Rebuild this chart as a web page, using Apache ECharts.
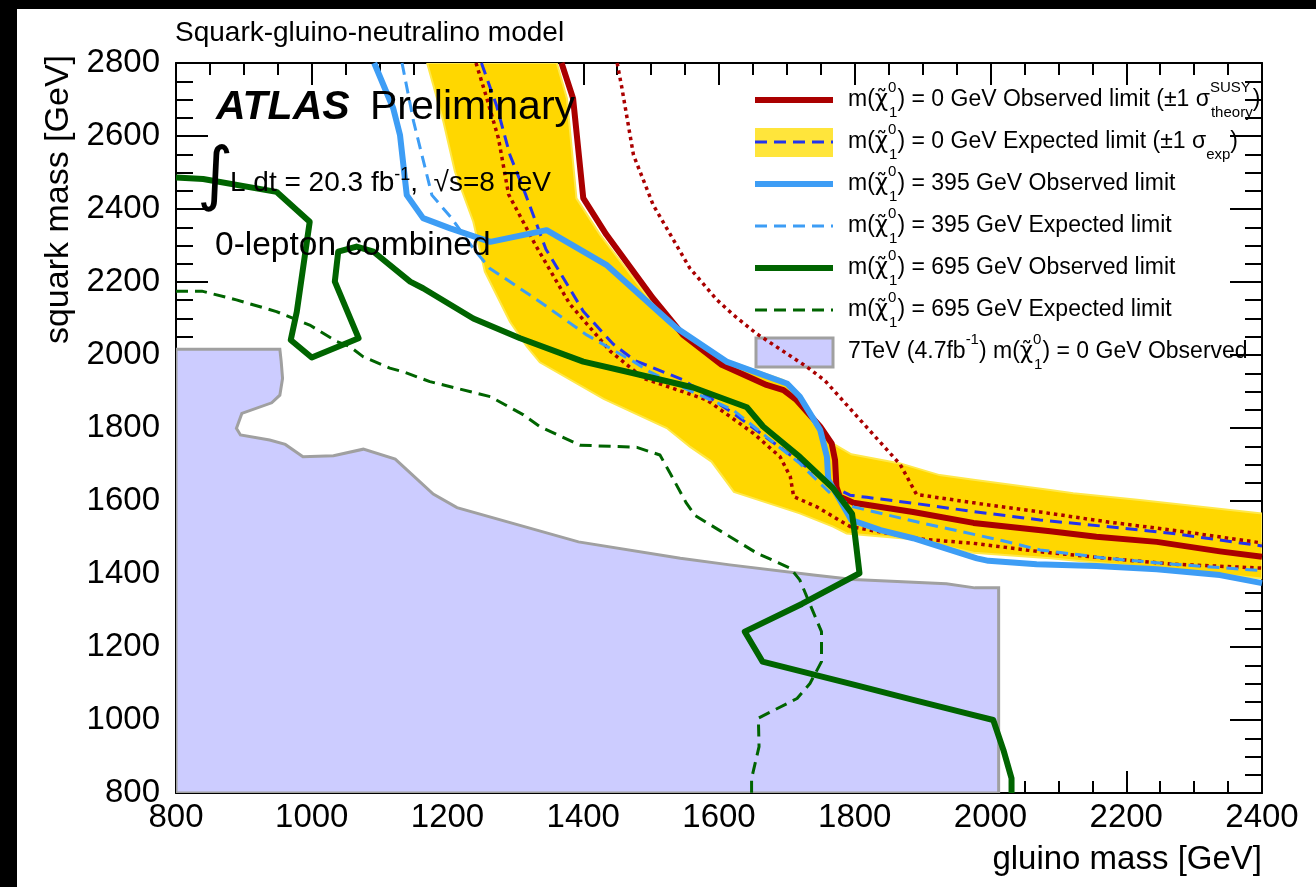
<!DOCTYPE html>
<html><head><meta charset="utf-8">
<script src="https://cdn.jsdelivr.net/npm/echarts@6/dist/echarts.min.js"></script>
<style>html,body{margin:0;padding:0;background:#fff}#c{width:1316px;height:887px}</style>
</head><body><div id="c"></div>
<script>
// ---- axis ranges / ticks ----
const X_RANGE = [800, 2400];
const Y_RANGE = [800, 2800];
const TICK_STEP = 200;

// ---- curves: [gluino mass, squark mass] in GeV ----
const obs0 = [[1368,2800],[1385,2703],[1400,2430],[1434,2330],[1503,2155],[1547,2055],[1604,1973],[1670,1918],[1695,1904],[1714,1877],[1749,1804],[1766,1758],[1771,1712],[1773,1639],[1778,1612],[1798,1595],[1886,1570],[1975,1540],[2088,1517],[2156,1502],[2245,1488],[2338,1462],[2400,1447]];
const theoryUp = [[1450,2800],[1457,2731],[1474,2548],[1503,2411],[1557,2238],[1597,2151],[1621,2110],[1655,2059],[1729,1968],[1756,1930],[1808,1822],[1867,1700],[1891,1618],[1975,1595],[2073,1570],[2171,1543],[2269,1520],[2400,1485]];
const theoryDown = [[1242,2800],[1258,2703],[1275,2594],[1290,2440],[1330,2300],[1380,2140],[1440,2010],[1489,1936],[1582,1877],[1651,1785],[1690,1721],[1705,1667],[1710,1612],[1744,1584],[1793,1530],[1896,1496],[1975,1484],[2073,1461],[2171,1443],[2269,1427],[2400,1416]];
const exp0 = [[1250,2800],[1272,2685],[1292,2548],[1315,2440],[1345,2290],[1400,2120],[1444,2030],[1476,1985],[1548,1931],[1621,1840],[1695,1740],[1768,1639],[1793,1616],[1818,1610],[1886,1594],[1975,1571],[2073,1548],[2171,1530],[2269,1511],[2400,1477]];
const bandUpper = [[1361,2800],[1376,2703],[1390,2429],[1425,2329],[1493,2164],[1513,2114],[1533,2073],[1577,2023],[1611,1986],[1695,1931],[1710,1895],[1739,1813],[1756,1770],[1795,1728],[1867,1703],[1925,1671],[1975,1658],[2088,1630],[2122,1621],[2220,1603],[2400,1566]];
const bandLower = [[1170,2800],[1194,2639],[1211,2502],[1238,2365],[1255,2228],[1292,2091],[1317,2023],[1336,1980],[1430,1880],[1523,1800],[1557,1749],[1589,1708],[1622,1625],[1719,1566],[1768,1530],[1788,1511],[1886,1495],[1975,1458],[2088,1443],[2220,1420],[2400,1388]];
const obs395 = [[1092,2800],[1120,2676],[1130,2603],[1140,2438],[1164,2375],[1204,2347],[1263,2310],[1346,2342],[1434,2247],[1538,2073],[1611,1982],[1700,1922],[1719,1886],[1749,1795],[1759,1721],[1761,1658],[1795,1548],[1838,1520],[1886,1498],[1980,1443],[1997,1436],[2068,1427],[2156,1422],[2245,1413],[2338,1397],[2400,1375]];
const exp395 = [[1133,2800],[1150,2640],[1177,2438],[1206,2375],[1238,2292],[1262,2238],[1336,2146],[1405,2055],[1474,1982],[1498,1954],[1542,1915],[1621,1849],[1719,1703],[1764,1621],[1798,1584],[1891,1543],[2014,1493],[2073,1466],[2171,1443],[2269,1427],[2400,1409]];
const obs695 = [[800,2486],[840,2482],[948,2447],[997,2365],[978,2119],[969,2041],[1000,1993],[1069,2046],[1034,2201],[1039,2283],[1066,2297],[1091,2283],[1145,2201],[1164,2183],[1238,2100],[1307,2046],[1400,1982],[1474,1950],[1562,1911],[1641,1857],[1665,1804],[1719,1721],[1768,1635],[1796,1565],[1800,1511],[1807,1402],[1722,1318],[1638,1242],[1664,1160],[1800,1096],[1886,1055],[1965,1018],[2004,1000],[2019,918],[2031,840],[2031,800]];
const exp695 = [[800,2175],[838,2175],[889,2151],[948,2119],[997,2082],[1037,2037],[1056,2023],[1076,1995],[1115,1964],[1135,1954],[1174,1927],[1263,1886],[1312,1836],[1336,1804],[1395,1753],[1479,1747],[1513,1726],[1528,1676],[1552,1594],[1565,1560],[1656,1457],[1705,1416],[1719,1384],[1751,1242],[1751,1160],[1734,1100],[1715,1059],[1658,1005],[1659,927],[1648,840],[1648,800]];
const obs7TeV = [[800,2016],[953,2016],[955,1982],[957,1936],[953,1890],[941,1869],[897,1840],[889,1799],[895,1781],[938,1767],[961,1755],[987,1721],[1032,1724],[1076,1742],[1123,1715],[1179,1619],[1214,1582],[1393,1488],[1543,1443],[1616,1425],[1739,1397],[1798,1385],[1935,1373],[1977,1362],[2012,1362],[2012,800],[800,800]];

// ---- text ----
const titleText = 'Squark-gluino-neutralino model';
const xName = 'gluino mass [GeV]';
const yName = 'squark mass [GeV]';
const chiTok = '{t|m(}{c|χ̃}{sp|0}{sb|1}{t|)';
const legendTexts = [
  chiTok + ' = 0 GeV Observed limit (±1 σ}{sp2|SUSY}{sb2|theory}{t|)}',
  chiTok + ' = 0 GeV Expected limit (±1 σ}{sb3|exp}{t|)}',
  chiTok + ' = 395 GeV Observed limit}',
  chiTok + ' = 395 GeV Expected limit}',
  chiTok + ' = 695 GeV Observed limit}',
  chiTok + ' = 695 GeV Expected limit}',
  '{t|7TeV (4.7fb}{sp3|-1}{t|) m(}{c|χ̃}{sp|0}{sb|1}{t|) = 0 GeV Observed}'
];

// ---- styles ----
const C = {
  red: '#aa0000', band: '#ffd700', bandEdge: '#ffe84a', bandLeg: '#ffe53b',
  blue: '#2233ee', light: '#3d9df5', green: '#006400',
  greyFill: '#ccccff', greyEdge: '#a0a0a0'
};
const FONT = 'Liberation Sans, Arial, Helvetica, sans-serif';

function lineSeries(name, data, color, width, type) {
  return {
    type: 'line', name: name, data: data, symbol: 'none', showSymbol: false, clip: true,
    silent: true, animation: false,
    lineStyle: { color: color, width: width, type: type || 'solid', cap: 'butt', join: 'round' }
  };
}
function polySeries(name, pts, style) {
  return {
    type: 'custom', name: name, coordinateSystem: 'cartesian2d', clip: true, silent: true,
    animation: false, data: [pts[0]],
    renderItem: function (params, api) {
      return { type: 'polygon', shape: { points: pts.map(function (p) { return api.coord(p); }) }, style: style };
    }
  };
}

const bandPoly = bandUpper.concat(bandLower.slice().reverse());

function axisCommon(pos, showLabel, isY) {
  return {
    type: 'value', position: pos,
    min: isY ? Y_RANGE[0] : X_RANGE[0], max: isY ? Y_RANGE[1] : X_RANGE[1], interval: TICK_STEP,
    axisLine: { show: true, onZero: false, lineStyle: { color: '#000', width: 2 } },
    axisTick: { show: true, inside: true, length: isY ? 32 : 22, lineStyle: { color: '#000', width: 2 } },
    minorTick: { show: true, splitNumber: 4, length: isY ? 17 : 12, lineStyle: { color: '#000', width: 2 } },
    splitLine: { show: false }, minorSplitLine: { show: false },
    axisLabel: { show: showLabel, color: '#000', fontSize: 33, fontFamily: FONT, margin: isY ? 16 : 8,
      formatter: function (v) { return String(v); } }
  };
}

const xMain = axisCommon('bottom', true, false);
xMain.name = xName; xMain.nameLocation = 'end'; xMain.nameGap = 0;
xMain.nameTextStyle = { fontSize: 33, fontFamily: FONT, color: '#000', align: 'right', verticalAlign: 'top', padding: [50, 0, 0, 0] };
const yMain = axisCommon('left', true, true);
yMain.name = yName; yMain.nameLocation = 'end'; yMain.nameGap = 8; yMain.nameRotate = 90;
yMain.nameTextStyle = { fontSize: 34, fontFamily: FONT, color: '#000', align: 'right', verticalAlign: 'bottom', padding: [0, 0, 100, 0] };

const sub = function (va, w) {
  const o = { fontSize: 15, fontFamily: FONT, color: '#000', lineHeight: 15, verticalAlign: va };
  if (w) o.width = w;
  return o;
};
const rich = {
  t: { fontSize: 23, fontFamily: FONT, color: '#000', lineHeight: 40, verticalAlign: 'middle' },
  c: { fontSize: 23, fontFamily: 'DejaVu Sans', color: '#000', lineHeight: 40, verticalAlign: 'middle' },
  sp: sub('top', 1), sb: sub('bottom'),
  sp2: sub('top', 1), sb2: sub('bottom'), sb3: sub('bottom'), sp3: sub('top')
};

const rowY = [100, 142, 184, 226, 268, 310, 352];
const LX0 = 755, LX1 = 833, TX = 848;
const legendGraphics = [
  { type: 'line', shape: { x1: LX0, y1: rowY[0], x2: LX1, y2: rowY[0] }, style: { stroke: C.red, lineWidth: 6 } },
  { type: 'rect', shape: { x: LX0, y: rowY[1] - 14, width: LX1 - LX0, height: 29 }, style: { fill: C.bandLeg } },
  { type: 'line', shape: { x1: LX0, y1: rowY[1], x2: LX1, y2: rowY[1] }, style: { stroke: C.blue, lineWidth: 3, lineDash: [12, 7] } },
  { type: 'line', shape: { x1: LX0, y1: rowY[2], x2: LX1, y2: rowY[2] }, style: { stroke: C.light, lineWidth: 6 } },
  { type: 'line', shape: { x1: LX0, y1: rowY[3], x2: LX1, y2: rowY[3] }, style: { stroke: C.light, lineWidth: 3, lineDash: [12, 7] } },
  { type: 'line', shape: { x1: LX0, y1: rowY[4], x2: LX1, y2: rowY[4] }, style: { stroke: C.green, lineWidth: 6 } },
  { type: 'line', shape: { x1: LX0, y1: rowY[5], x2: LX1, y2: rowY[5] }, style: { stroke: C.green, lineWidth: 3, lineDash: [12, 7] } },
  { type: 'rect', shape: { x: LX0 + 1, y: rowY[6] - 14, width: LX1 - LX0 - 1, height: 29 }, style: { fill: C.greyFill, stroke: C.greyEdge, lineWidth: 3 } }
].concat(legendTexts.map(function (s, i) {
  return { type: 'text', x: TX, y: rowY[i], z: 60, style: { text: s, rich: rich, align: 'left', verticalAlign: 'middle', textAlign: 'left', textVerticalAlign: 'middle' } };
}));

function txt(x, y, s, size, extra) {
  const st = { text: s, fill: '#000', fontSize: size, fontFamily: FONT, align: 'left', verticalAlign: 'middle', textAlign: 'left', textVerticalAlign: 'middle' };
  Object.assign(st, extra || {});
  return { type: 'text', x: x, y: y, style: st, z: 50 };
}

const labelGraphics = [
  txt(175, 33, titleText, 28),
  txt(216, 108, 'ATLAS', 41, { fontWeight: 'bold', fontStyle: 'italic' }),
  txt(370, 108, 'Preliminary', 41),
  txt(197, 179, '∫', 70, { fontFamily: 'DejaVu Sans' }),
  { type: 'text', x: 230, y: 183, z: 50, style: { text: '{n|L dt = 20.3 fb}{s|-1}{n|,  √s=8 TeV}', align: 'left', verticalAlign: 'middle', textAlign: 'left', textVerticalAlign: 'middle',
    rich: { n: { fontSize: 28, fontFamily: FONT, color: '#000', lineHeight: 34, verticalAlign: 'middle' }, s: { fontSize: 18, fontFamily: FONT, color: '#000', lineHeight: 18, verticalAlign: 'top' } } } },
  txt(215, 246, '0-lepton combined', 33.5)
];

const borders = [
  { type: 'rect', shape: { x: 0, y: 0, width: 17, height: 887 }, style: { fill: '#000' }, z: 100 },
  { type: 'rect', shape: { x: 0, y: 0, width: 1316, height: 9 }, style: { fill: '#000' }, z: 100 }
];

const chart = echarts.init(document.getElementById('c'), null, { renderer: 'canvas' });
chart.setOption({
  backgroundColor: '#fff',
  animation: false,
  grid: { left: 176, top: 63, right: 54, bottom: 94, containLabel: false, outerBoundsMode: 'none' },
  xAxis: [xMain, axisCommon('top', false, false)],
  yAxis: [yMain, axisCommon('right', false, true)],
  series: [
    polySeries('7TeV (4.7fb-1) observed', obs7TeV, { fill: C.greyFill, stroke: C.greyEdge, lineWidth: 3 }),
    polySeries('Expected ±1σ band', bandPoly, { fill: C.band, stroke: C.bandEdge, lineWidth: 2 }),
    lineSeries('Expected 0 GeV', exp0, C.blue, 3, [12, 7]),
    lineSeries('Theory +1σ', theoryUp, C.red, 3.5, [3.5, 4]),
    lineSeries('Theory -1σ', theoryDown, C.red, 3.5, [3.5, 4]),
    lineSeries('Observed 0 GeV', obs0, C.red, 6),
    lineSeries('Expected 395 GeV', exp395, C.light, 3, [12, 7]),
    lineSeries('Observed 395 GeV', obs395, C.light, 6),
    lineSeries('Expected 695 GeV', exp695, C.green, 3, [12, 7]),
    lineSeries('Observed 695 GeV', obs695, C.green, 6)
  ],
  graphic: borders.concat(legendGraphics, labelGraphics)
});
</script></body></html>
